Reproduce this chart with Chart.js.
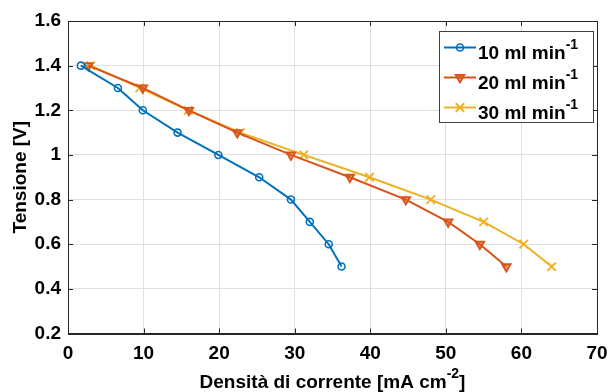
<!DOCTYPE html>
<html>
<head>
<meta charset="utf-8">
<script src="https://cdn.jsdelivr.net/npm/chart.js@4.4.1/dist/chart.umd.min.js"></script>
<style>
  html, body { margin: 0; padding: 0; background: #ffffff; }
  #wrap { width: 609px; height: 392px; position: relative; }
</style>
</head>
<body>
<div id="wrap"><canvas id="c" width="609" height="392"></canvas></div>
<script>
// ---- data ----
const seriesLabels = ["10 ml min", "20 ml min", "30 ml min"];
const seriesSup = ["-1", "-1", "-1"];
const tension = [1.4, 1.3, 1.2, 1.1, 1.0, 0.9, 0.8, 0.7, 0.6, 0.5];
const current10 = [1.7, 6.6, 9.9, 14.5, 19.9, 25.3, 29.5, 32.0, 34.5, 36.2];
const current20 = [2.7, 9.9, 16.0, 22.4, 29.5, 37.3, 44.7, 50.3, 54.5, 58.0];
const current30 = [3.0, 9.5, 15.9, 22.8, 31.2, 39.9, 48.0, 55.0, 60.3, 64.0];
const xTitleMain = "Densità di corrente [mA cm";
const xTitleSup = "-2";
const xTitleEnd = "]";
const yTitle = "Tensione [V]";

const colors = ["#0072BD", "#D95319", "#EDB120"];
const FONT = "'Liberation Sans', Arial, Helvetica, sans-serif";
Chart.defaults.font.family = FONT;

function pts(xs, ys) { return xs.map((x, i) => ({ x: x, y: ys[i] })); }

const styles = [
  { pointStyle: 'circle', pointRadius: 3.5, rotation: 0, pointBorderWidth: 1.6, bg: 'rgba(0,0,0,0)' },
  { pointStyle: 'triangle', pointRadius: 5, rotation: 180, pointBorderWidth: 1.8, bg: 'rgba(217,83,25,0.55)' },
  { pointStyle: 'crossRot', pointRadius: 6, rotation: 0, pointBorderWidth: 1.8, bg: 'rgba(0,0,0,0)' }
];

const allX = [current10, current20, current30];
const datasets = allX.map((xs, i) => ({
  label: seriesLabels[i] + seriesSup[i],
  data: pts(xs, tension),
  borderColor: colors[i],
  backgroundColor: styles[i].bg,
  pointBackgroundColor: styles[i].bg,
  pointBorderColor: colors[i],
  borderWidth: 2,
  pointStyle: styles[i].pointStyle,
  pointRadius: styles[i].pointRadius,
  pointRotation: styles[i].rotation,
  pointBorderWidth: styles[i].pointBorderWidth,
  pointHoverRadius: styles[i].pointRadius,
  tension: 0,
  fill: false
}));

function drawSegments(ctx, segs, x, baseline, align) {
  let total = 0;
  segs.forEach(s => { ctx.font = s.sup ? "bold 14px " + FONT : "bold 19px " + FONT; s.w = ctx.measureText(s.t).width; total += s.w; });
  let cx = align === 'center' ? x - total / 2 : x;
  ctx.textAlign = 'left';
  ctx.textBaseline = 'alphabetic';
  segs.forEach(s => {
    ctx.font = s.sup ? "bold 14px " + FONT : "bold 19px " + FONT;
    ctx.fillText(s.t, cx, s.sup ? baseline - 10 : baseline);
    cx += s.w;
  });
}

function marker(ctx, i, x, y) {
  const st = styles[i];
  ctx.save();
  ctx.strokeStyle = colors[i];
  ctx.lineWidth = st.pointBorderWidth;
  ctx.fillStyle = st.bg;
  ctx.beginPath();
  if (st.pointStyle === 'circle') {
    ctx.arc(x, y, st.pointRadius, 0, Math.PI * 2);
    ctx.stroke();
  } else if (st.pointStyle === 'triangle') {
    const r = st.pointRadius;
    for (let k = 0; k < 3; k++) {
      const a = Math.PI + k * 2 * Math.PI / 3;
      const px = x + Math.sin(a) * r, py = y - Math.cos(a) * r;
      if (k === 0) ctx.moveTo(px, py); else ctx.lineTo(px, py);
    }
    ctx.closePath();
    ctx.fill();
    ctx.stroke();
  } else {
    const d = st.pointRadius * Math.SQRT1_2;
    ctx.moveTo(x - d, y - d); ctx.lineTo(x + d, y + d);
    ctx.moveTo(x + d, y - d); ctx.lineTo(x - d, y + d);
    ctx.stroke();
  }
  ctx.restore();
}

const framePlugin = {
  id: 'frame',
  afterDraw(chart) {
    const ctx = chart.ctx;
    const a = chart.chartArea;
    const xs = chart.scales.x, ys = chart.scales.y;
    ctx.save();
    // box
    ctx.strokeStyle = '#262626';
    ctx.lineWidth = 1;
    ctx.strokeRect(Math.round(a.left) + 0.5, Math.round(a.top) + 0.5, Math.round(a.right - a.left), Math.round(a.bottom - a.top));
    // inner ticks
    ctx.beginPath();
    xs.ticks.forEach(t => {
      const px = Math.round(xs.getPixelForValue(t.value)) + 0.5;
      ctx.moveTo(px, a.bottom); ctx.lineTo(px, a.bottom - 5);
      ctx.moveTo(px, a.top); ctx.lineTo(px, a.top + 5);
    });
    ys.ticks.forEach(t => {
      const py = Math.round(ys.getPixelForValue(t.value)) + 0.5;
      ctx.moveTo(a.left, py); ctx.lineTo(a.left + 5, py);
      ctx.moveTo(a.right, py); ctx.lineTo(a.right - 5, py);
    });
    ctx.stroke();

    // titles
    ctx.fillStyle = '#000000';
    drawSegments(ctx, [{ t: xTitleMain }, { t: xTitleSup, sup: true }, { t: xTitleEnd }], (a.left + a.right) / 2, 388, 'center');
    ctx.save();
    ctx.translate(21, (a.top + a.bottom) / 2);
    ctx.rotate(-Math.PI / 2);
    ctx.font = "bold 19px " + FONT;
    ctx.textAlign = 'center';
    ctx.textBaseline = 'middle';
    ctx.fillText(yTitle, 0, 0);
    ctx.restore();

    // legend
    const L = 439, T = 31, R = 593, B = 122;
    ctx.fillStyle = '#ffffff';
    ctx.fillRect(L, T, R - L, B - T);
    ctx.strokeStyle = '#404040';
    ctx.lineWidth = 1;
    ctx.strokeRect(L + 0.5, T + 0.5, R - L, B - T);
    const rows = [47.5, 77.5, 107.5];
    rows.forEach((ry, i) => {
      ctx.strokeStyle = colors[i];
      ctx.lineWidth = 2;
      ctx.beginPath();
      ctx.moveTo(444, ry); ctx.lineTo(476, ry);
      ctx.stroke();
      marker(ctx, i, 460, ry);
      ctx.fillStyle = '#000000';
      drawSegments(ctx, [{ t: seriesLabels[i] }, { t: seriesSup[i], sup: true }], 478, ry + 11, 'left');
    });
    ctx.restore();
  }
};

new Chart(document.getElementById('c'), {
  type: 'line',
  data: { datasets: datasets },
  options: {
    responsive: false,
    animation: false,
    devicePixelRatio: 1,
    layout: { padding: { top: 21, right: 12, left: 0, bottom: 0 } },
    plugins: { legend: { display: false }, tooltip: { enabled: false } },
    scales: {
      x: {
        type: 'linear', min: 0, max: 70,
        afterFit(s) { s.height = 58.5; s.paddingLeft = 0; s.paddingRight = 0; },
        ticks: { stepSize: 10, color: '#000000', font: { size: 19, weight: 'bold' }, padding: 9, maxRotation: 0 },
        grid: { color: '#e0e0e0', drawTicks: false, lineWidth: 1 },
        border: { display: true, color: '#262626' }
      },
      y: {
        type: 'linear', min: 0.2, max: 1.6,
        afterFit(s) { s.width = 68; s.paddingTop = 0; s.paddingBottom = 0; },
        ticks: {
          stepSize: 0.2, color: '#000000', font: { size: 19, weight: 'bold' }, padding: 7,
          callback: v => String(Number(v.toFixed(1)))
        },
        grid: { color: '#e0e0e0', drawTicks: false, lineWidth: 1 },
        border: { display: true, color: '#262626' }
      }
    }
  },
  plugins: [framePlugin]
});
</script>
</body>
</html>
